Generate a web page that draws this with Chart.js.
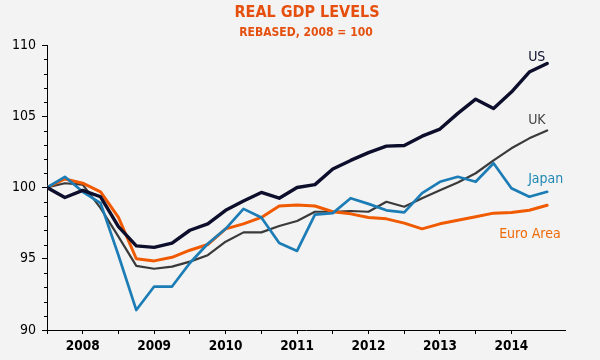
<!DOCTYPE html>
<html>
<head>
<meta charset="utf-8">
<script src="https://cdn.jsdelivr.net/npm/chart.js@4.4.1/dist/chart.umd.min.js"></script>
<style>
  html, body { margin: 0; padding: 0; background: #f3f3f3; }
  #wrap { width: 600px; height: 360px; position: relative; }
</style>
</head>
<body>
<div id="wrap"><canvas id="c" width="600" height="360"></canvas></div>
<script>
// Quarterly observations (29 points, rebased 2008 = 100)
const quarters = ['2007Q4','2008Q1','2008Q2','2008Q3','2008Q4','2009Q1','2009Q2','2009Q3','2009Q4',
  '2010Q1','2010Q2','2010Q3','2010Q4','2011Q1','2011Q2','2011Q3','2011Q4','2012Q1','2012Q2','2012Q3',
  '2012Q4','2013Q1','2013Q2','2013Q3','2013Q4','2014Q1','2014Q2','2014Q3','2014Q4'];
const usValues    = [100, 99.3, 99.8, 99.35, 97.25, 95.9, 95.8, 96.1, 97.0, 97.45, 98.4, 99.05, 99.65, 99.25, 100.0, 100.2, 101.3, 101.9, 102.45, 102.9, 102.95, 103.6, 104.1, 105.2, 106.2, 105.55, 106.7, 108.1, 108.7];
const ukValues    = [100, 100.3, 100.2, 98.55, 96.55, 94.5, 94.3, 94.45, 94.8, 95.25, 96.2, 96.85, 96.85, 97.3, 97.65, 98.3, 98.3, 98.35, 98.3, 99.0, 98.65, 99.25, 99.8, 100.35, 101.0, 101.9, 102.75, 103.45, 104.0];
const japanValues = [100, 100.75, 99.7, 98.9, 95.25, 91.4, 93.05, 93.05, 94.7, 96.05, 97.1, 98.5, 97.9, 96.1, 95.55, 98.1, 98.2, 99.25, 98.85, 98.4, 98.25, 99.6, 100.4, 100.75, 100.4, 101.7, 99.95, 99.35, 99.7];
const euroValues  = [100, 100.6, 100.3, 99.7, 97.9, 95.0, 94.85, 95.1, 95.6, 96.0, 97.1, 97.45, 97.9, 98.7, 98.77, 98.7, 98.3, 98.15, 97.9, 97.8, 97.5, 97.1, 97.45, 97.7, 97.95, 98.2, 98.25, 98.4, 98.75];
const yearLabels  = ['2008','2009','2010','2011','2012','2013','2014'];
const yTickValues = [90, 95, 100, 105, 110];
const seriesNames = ['US', 'Japan', 'Euro Area', 'UK'];

const toXY = arr => arr.map((v, i) => ({ x: i, y: v }));

const FONT = "'DejaVu Sans Condensed', 'DejaVu Sans', sans-serif";

const styles = {
  'US':        { line: '#0d0d2c', text: '#0d0d2c', width: 3.4, dx: -19, dy: -3, series: usValues },
  'Japan':     { line: '#1c7db6', text: '#2188b3', width: 2.7, dx: -19, dy: -9, series: japanValues },
  'Euro Area': { line: '#f05a00', text: '#ee6a05', width: 3.0, dx: -48, dy: 33, series: euroValues },
  'UK':        { line: '#3a3a3a', text: '#444444', width: 2.2, dx: -19, dy: -7, series: ukValues }
};

const decor = {
  id: 'decor',
  beforeDraw(chart) {
    const ctx = chart.ctx;
    ctx.save();
    ctx.fillStyle = '#f3f3f3';
    ctx.fillRect(0, 0, chart.width, chart.height);
    ctx.restore();
  },
  afterDraw(chart) {
    const ctx = chart.ctx;
    const y = chart.scales.y, x = chart.scales.x;
    ctx.save();
    // minor ticks on y axis
    ctx.strokeStyle = '#000';
    ctx.lineWidth = 1;
    for (let v = y.min; v <= y.max; v++) {
      if (yTickValues.includes(v)) continue;
      const py = Math.round(y.getPixelForValue(v)) + 0.5;
      ctx.beginPath();
      ctx.moveTo(x.left - 3, py);
      ctx.lineTo(x.left, py);
      ctx.stroke();
    }
    // titles
    ctx.fillStyle = '#e5500f';
    ctx.textAlign = 'center';
    ctx.textBaseline = 'alphabetic';
    ctx.font = "bold 16px " + FONT;
    ctx.fillText('REAL GDP LEVELS', 307, 17);
    ctx.font = "bold 12px " + FONT;
    ctx.fillText('REBASED, 2008 = 100', 306, 36);
    // series labels near last points
    ctx.textAlign = 'left';
    ctx.font = "14px " + FONT;
    seriesNames.forEach(name => {
      const s = styles[name];
      const last = s.series.length - 1;
      const px = x.getPixelForValue(last) + s.dx;
      const py = y.getPixelForValue(s.series[last]) + s.dy;
      ctx.fillStyle = s.text;
      ctx.fillText(name, px, py);
    });
    ctx.restore();
  }
};

new Chart(document.getElementById('c'), {
  type: 'line',
  data: {
    labels: quarters,
    datasets: seriesNames.map(name => ({
      label: name,
      data: toXY(styles[name].series),
      borderColor: styles[name].line,
      borderWidth: styles[name].width,
      pointRadius: 0,
      tension: 0,
      fill: false,
      borderJoinStyle: 'round',
      borderCapStyle: 'round'
    }))
  },
  options: {
    responsive: false,
    animation: false,
    layout: { padding: { top: 45, right: 35, left: 0, bottom: 0 } },
    plugins: { legend: { display: false }, tooltip: { enabled: false }, title: { display: false } },
    scales: {
      x: {
        type: 'linear',
        min: 0,
        max: 29,
        afterFit(s) { s.height = 30; },
        afterBuildTicks(s) { s.ticks = s.ticks.filter(t => t.value % 2 === 0 && t.value <= 28); },
        ticks: {
          stepSize: 2,
          autoSkip: false,
          maxRotation: 0,
          padding: 4,
          color: '#000',
          font: { family: FONT, size: 13.5, weight: 'bold' },
          callback: v => ((v - 2) % 4 === 0 ? yearLabels[(v - 2) / 4] : '')
        },
        grid: { display: true, drawOnChartArea: false, drawTicks: true, tickLength: 4, color: '#000', lineWidth: 1 },
        border: { display: true, color: '#000', width: 1 }
      },
      y: {
        min: 90,
        max: 110,
        afterFit(s) { s.width = 47; },
        afterBuildTicks(s) { s.ticks = yTickValues.map(v => ({ value: v })); },
        ticks: {
          stepSize: 5,
          padding: 6,
          color: '#000',
          font: { family: FONT, size: 14 }
        },
        grid: { display: true, drawOnChartArea: false, drawTicks: true, tickLength: 5, color: '#000', lineWidth: 1 },
        border: { display: true, color: '#000', width: 1 }
      }
    }
  },
  plugins: [decor]
});
</script>
</body>
</html>
